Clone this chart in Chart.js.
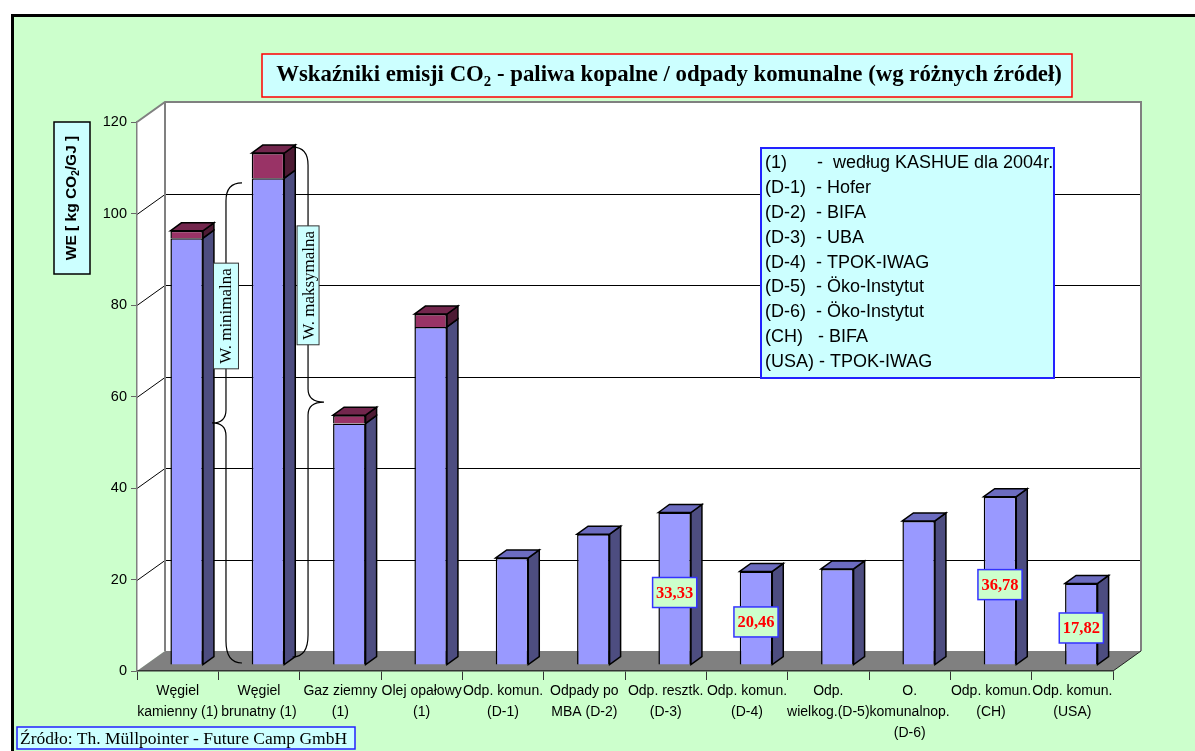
<!DOCTYPE html>
<html lang="pl">
<head>
<meta charset="UTF-8">
<title>Wskaźniki emisji CO2</title>
<script src="https://cdn.jsdelivr.net/npm/chart.js"></script>
<style>
  html, body { margin: 0; padding: 0; background: #fff; }
  #wrap { width: 1195px; height: 751px; }
</style>
</head>
<body>
<div id="wrap"><canvas id="co2Chart" width="1195" height="751"></canvas></div>
<script>
// ---- data ----
const categories = [
  ['Węgiel', 'kamienny (1)'],
  ['Węgiel', 'brunatny (1)'],
  ['Gaz ziemny', '(1)'],
  ['Olej opałowy', '(1)'],
  ['Odp. komun.', '(D-1)'],
  ['Odpady po', 'MBA (D-2)'],
  ['Odp. resztk.', '(D-3)'],
  ['Odp. komun.', '(D-4)'],
  ['Odp.', 'wielkog.(D-5)'],
  ['O.', 'komunalnop.', '(D-6)'],
  ['Odp. komun.', '(CH)'],
  ['Odp. komun.', '(USA)']
];
// lower value (blue column)
const minValues = [93.3, 106.4, 52.8, 73.9, 23.4, 28.6, 33.33, 20.46, 21.0, 31.5, 36.78, 17.82];
// upper value (maroon cap), fossil fuels only
const maxValues = [94.9, 111.9, 54.6, 76.7, null, null, null, null, null, null, null, null];
// bars with a value box
const labelledBars = [6, 7, 10, 11];
const yTicks = [0, 20, 40, 60, 80, 100, 120];
const sourceNotes = [
  '(1)      -  według KASHUE dla 2004r.',
  '(D-1)  - Hofer',
  '(D-2)  - BIFA',
  '(D-3)  - UBA',
  '(D-4)  - TPOK-IWAG',
  '(D-5)  - Öko-Instytut',
  '(D-6)  - Öko-Instytut',
  '(CH)   - BIFA',
  '(USA) - TPOK-IWAG'
];

const capValues = maxValues.map((v, i) => v == null ? null : +(v - minValues[i]).toFixed(2));

// ---- look ----
const SANS = '"Liberation Sans", Arial, sans-serif';
const SERIF = '"Liberation Serif", "Times New Roman", serif';
const WALL = { dx: 28, dy: -20 };      // depth of the floor / back wall
const BAR_OFF = { dx: 9, dy: -6 };     // bars stand a bit behind the front axis
const BAR_DEPTH = { dx: 11, dy: -8 };
const faceColors = [
  { side: '#4D4D80', top: '#6C6CC0' },
  { side: '#4D1A33', top: '#73264D' }
];

function poly(ctx, pts, fill, stroke, lw) {
  ctx.beginPath();
  pts.forEach((p, i) => i ? ctx.lineTo(p[0], p[1]) : ctx.moveTo(p[0], p[1]));
  ctx.closePath();
  if (fill) { ctx.fillStyle = fill; ctx.fill(); }
  if (stroke) { ctx.strokeStyle = stroke; ctx.lineWidth = lw || 1; ctx.stroke(); }
}

// text made of parts, some of them subscript
function richText(ctx, parts, x, y, size, family, weight) {
  const font = s => `${weight} ${s}px ${family}`;
  let w = 0;
  parts.forEach(p => { ctx.font = font(p.sub ? size * 0.65 : size); w += ctx.measureText(p.t).width; });
  let cx = x - w / 2;
  ctx.textAlign = 'left';
  ctx.textBaseline = 'middle';
  parts.forEach(p => {
    ctx.font = font(p.sub ? size * 0.65 : size);
    ctx.fillText(p.t, cx, p.sub ? y + size * 0.3 : y);
    cx += ctx.measureText(p.t).width;
  });
}

function box(ctx, x, y, w, h, fill, stroke, lw) {
  ctx.fillStyle = fill;
  ctx.fillRect(x, y, w, h);
  ctx.strokeStyle = stroke;
  ctx.lineWidth = lw;
  ctx.strokeRect(x, y, w, h);
}

const scene = {
  id: 'scene',
  beforeDraw(chart) {
    const { ctx, chartArea: a, scales: { y } } = chart;
    const W = chart.width, H = chart.height;
    ctx.save();
    ctx.fillStyle = '#fff';
    ctx.fillRect(0, 0, W, H);
    ctx.fillStyle = '#CCFFCC';
    ctx.fillRect(12, 15, W - 12, H - 15);
    ctx.strokeStyle = '#000';
    ctx.lineWidth = 3;
    ctx.beginPath();
    ctx.moveTo(12.5, H); ctx.lineTo(12.5, 15.5); ctx.lineTo(W, 15.5);
    ctx.stroke();

    const L = a.left, R = a.right, T = a.top, B = a.bottom;
    // side wall, back wall, floor
    poly(ctx, [[L, T], [L + WALL.dx, T + WALL.dy], [L + WALL.dx, B + WALL.dy], [L, B]], '#fff');
    ctx.fillStyle = '#fff';
    ctx.fillRect(L + WALL.dx, T + WALL.dy, R - L, B - T);
    poly(ctx, [[L, B], [R, B], [R + WALL.dx, B + WALL.dy], [L + WALL.dx, B + WALL.dy]], '#808080');

    // grid lines on the walls
    ctx.lineWidth = 1;
    yTicks.forEach(v => {
      if (v === 0 || v === 120) return;
      const py = Math.round(y.getPixelForValue(v)) + 0.5;
      ctx.strokeStyle = '#000';
      ctx.beginPath();
      ctx.moveTo(L, py);
      ctx.lineTo(L + WALL.dx, py + WALL.dy);
      ctx.lineTo(R + WALL.dx, py + WALL.dy);
      ctx.stroke();
    });
    // wall edges
    ctx.strokeStyle = '#808080';
    ctx.lineWidth = 2;
    ctx.beginPath();
    ctx.moveTo(L, T);
    ctx.lineTo(L + WALL.dx, T + WALL.dy);
    ctx.lineTo(R + WALL.dx, T + WALL.dy);
    ctx.lineTo(R + WALL.dx, B + WALL.dy);
    ctx.moveTo(L + WALL.dx, T + WALL.dy);
    ctx.lineTo(L + WALL.dx, B + WALL.dy);
    ctx.stroke();
    ctx.strokeStyle = '#222';
    ctx.lineWidth = 1;
    ctx.beginPath();
    ctx.moveTo(R, B);
    ctx.lineTo(R + WALL.dx, B + WALL.dy);
    ctx.stroke();
    ctx.restore();
  },
  beforeDatasetsDraw(chart) {
    chart.ctx.save();
    chart.ctx.translate(BAR_OFF.dx, BAR_OFF.dy);
  },
  afterDatasetsDraw(chart) {
    const ctx = chart.ctx;
    const ds = chart.data.datasets;
    ds.forEach((d, di) => {
      chart.getDatasetMeta(di).data.forEach((bar, i) => {
        if (d.data[i] == null) return;
        const { x, y, base, width } = bar.getProps(['x', 'y', 'base', 'width'], true);
        const l = x - width / 2, r = x + width / 2;
        poly(ctx, [[r, y], [r + BAR_DEPTH.dx, y + BAR_DEPTH.dy], [r + BAR_DEPTH.dx, base + BAR_DEPTH.dy], [r, base]],
          faceColors[di].side, '#000', 1.5);
        const onTop = ds.slice(di + 1).every(o => o.data[i] == null);
        if (onTop) {
          poly(ctx, [[l, y], [l + BAR_DEPTH.dx, y + BAR_DEPTH.dy], [r + BAR_DEPTH.dx, y + BAR_DEPTH.dy], [r, y]],
            faceColors[di].top, '#000', 1.5);
        }
      });
    });

    // value boxes
    const meta = chart.getDatasetMeta(0);
    labelledBars.forEach(i => {
      const bar = meta.data[i];
      const cy = (bar.y + bar.base) / 2 + 4;
      const txt = minValues[i].toFixed(2).replace('.', ',');
      ctx.font = `bold 16.5px ${SERIF}`;
      const w = ctx.measureText(txt).width + 7;
      box(ctx, bar.x - w / 2, cy - 15, w, 30, '#CCFFCC', '#3333FF', 1.5);
      ctx.fillStyle = '#FF0000';
      ctx.textAlign = 'center';
      ctx.textBaseline = 'middle';
      ctx.fillText(txt, bar.x, cy + 1);
    });
    ctx.restore();
  },
  afterDraw(chart) {
    const { ctx, scales: { x, y } } = chart;
    ctx.save();

    // title
    box(ctx, 262, 54, 810, 43, '#CCFFFF', '#FF0000', 1.5);
    ctx.fillStyle = '#000';
    richText(ctx, [
      { t: 'Wskaźniki emisji CO' }, { t: '2', sub: true },
      { t: ' - paliwa kopalne / odpady komunalne (wg różnych źródeł)' }
    ], 669, 75, 22.8, SERIF, 'bold');

    // y axis title
    ctx.save();
    ctx.translate(72, 198);
    ctx.rotate(-Math.PI / 2);
    box(ctx, -76, -18, 152, 36, '#CCFFFF', '#000', 1.5);
    ctx.fillStyle = '#000';
    richText(ctx, [{ t: 'WE [ kg CO' }, { t: '2', sub: true }, { t: '/GJ ]' }], 0, 0, 15.5, SANS, 'bold');
    ctx.restore();

    // source notes
    box(ctx, 761, 148, 293, 230, '#CCFFFF', '#2222FF', 2);
    ctx.fillStyle = '#000';
    ctx.font = `18px ${SANS}`;
    ctx.textAlign = 'left';
    ctx.textBaseline = 'middle';
    sourceNotes.forEach((s, k) => ctx.fillText(s, 765, 163 + k * 24.9));

    // footer
    box(ctx, 17, 727, 338, 22, '#CCFFFF', '#2222FF', 1.5);
    ctx.fillStyle = '#000';
    ctx.font = `17.5px ${SERIF}`;
    ctx.fillText('Źródło: Th. Müllpointer - Future Camp GmbH', 20, 739);

    // braces "W. minimalna" / "W. maksymalna"
    const braces = [
      { text: 'W. minimalna', line: 0.594, cusp: 0.422, end: 0.791, from: 1.75, to: 106.7, label: 77.6, thick: 25 },
      { text: 'W. maksymalna', line: 1.603, cusp: 1.799, end: 1.412, from: 3.06, to: 114.5, label: 84.3, thick: 22 }
    ];
    braces.forEach(b => {
      const xl = x.getPixelForValue(b.line), xc = x.getPixelForValue(b.cusp), xe = x.getPixelForValue(b.end);
      const yt = y.getPixelForValue(b.to), yb = y.getPixelForValue(b.from);
      const ym = (yt + yb) / 2;
      ctx.strokeStyle = '#000';
      ctx.lineWidth = 1.2;
      ctx.beginPath();
      ctx.moveTo(xe, yt);
      ctx.quadraticCurveTo(xl, yt, xl, yt + 18);
      ctx.lineTo(xl, ym - 13);
      ctx.quadraticCurveTo(xl, ym, xc, ym);
      ctx.quadraticCurveTo(xl, ym, xl, ym + 13);
      ctx.lineTo(xl, yb - 22);
      ctx.quadraticCurveTo(xl, yb, xe, yb);
      ctx.stroke();

      ctx.save();
      ctx.translate(xl, y.getPixelForValue(b.label));
      ctx.rotate(-Math.PI / 2);
      ctx.font = `17px ${SERIF}`;
      const w = ctx.measureText(b.text).width + 10;
      box(ctx, -w / 2, -b.thick / 2, w, b.thick, '#CCFFFF', '#333', 1);
      ctx.fillStyle = '#000';
      ctx.textAlign = 'center';
      ctx.textBaseline = 'middle';
      ctx.fillText(b.text, 0, 1);
      ctx.restore();
    });
    ctx.restore();
  }
};

Chart.defaults.font.family = SANS;
Chart.defaults.color = '#000';

new Chart(document.getElementById('co2Chart'), {
  type: 'bar',
  data: {
    labels: categories,
    datasets: [
      { label: 'min', data: minValues, backgroundColor: '#9999FF', borderColor: '#000', borderWidth: 1.5 },
      { label: 'max', data: capValues, backgroundColor: '#993366', borderColor: '#000', borderWidth: 1.5 }
    ]
  },
  options: {
    responsive: false,
    animation: false,
    devicePixelRatio: 1,
    layout: { padding: { left: 0, top: 122, right: 82, bottom: 0 } },
    plugins: {
      legend: { display: false },
      tooltip: { enabled: false },
      title: { display: false }
    },
    datasets: { bar: { barPercentage: 0.4, categoryPercentage: 1 } },
    scales: {
      x: {
        stacked: true,
        grid: { drawOnChartArea: false, tickLength: 9, color: '#333', lineWidth: 1 },
        border: { color: '#333', width: 1.5 },
        ticks: { autoSkip: false, maxRotation: 0, minRotation: 0, padding: 1, color: '#000',
                 font: { family: SANS, size: 14, lineHeight: 1.5 } },
        afterFit: s => { s.height = 80; }
      },
      y: {
        stacked: true,
        min: 0,
        max: 120,
        ticks: { stepSize: 20, padding: 4, color: '#000', font: { family: SANS, size: 14.5 } },
        grid: { drawOnChartArea: false, tickLength: 6, color: '#666' },
        border: { color: '#808080', width: 1.5 },
        afterFit: s => { s.width = 137; }
      }
    }
  },
  plugins: [scene]
});
</script>
</body>
</html>
